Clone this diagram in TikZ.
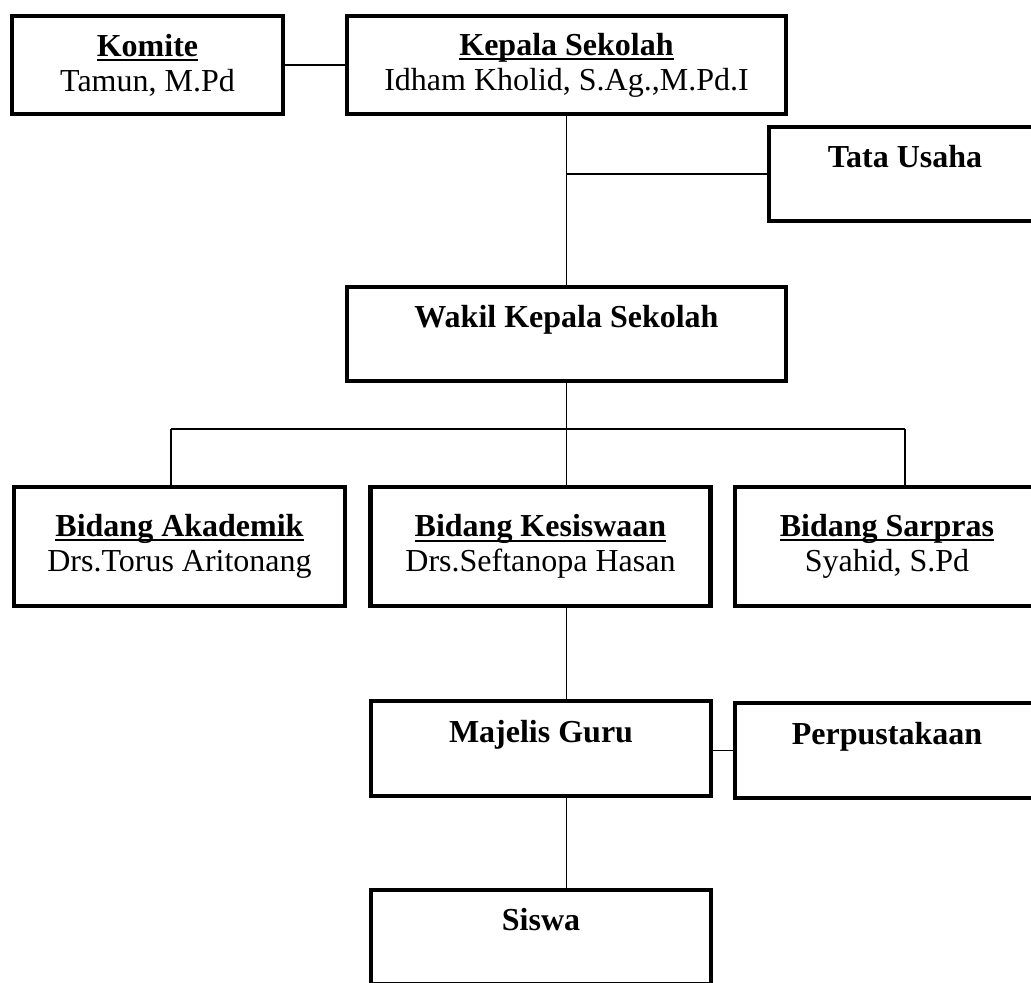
\documentclass[tikz,border=0pt]{standalone}
\usepackage{fontspec}
\setmainfont{Liberation Serif}
\newcommand\judul[1]{\setbox0\hbox{\bfseries #1}\rlap{\rule[-2.4pt]{\wd0}{1pt}}\box0}

\begin{document}
\begin{tikzpicture}[x = 0.5pt, y = -0.5pt,
    kotak/.style = {draw, line width = 2.2pt, align = center, inner sep = 0pt,
      font = \fontsize{16pt}{17.5pt}\selectfont},
    link/.style = {line width = 0.9pt}]
  \useasboundingbox (0, 0) rectangle (1031, 982);
  \clip (0, 0) rectangle (1031, 982);
  \def\lebarA{219.3pt}
  \def\lebarB{170pt}
  \def\lebarC{151.8pt}
  \node[kotak, minimum width = 135.3pt, minimum height = 48.8pt] (komite) at (147.5, 65)
    {\judul{Komite}\\Tamun, M.Pd};
  \node[kotak, minimum width = \lebarA, minimum height = 48.8pt] (kepala) at (566.5, 65)
    {\judul{Kepala Sekolah}\\Idham Kholid, S.Ag.,M.Pd.I};
  \node[kotak, minimum width = 135.8pt, minimum height = 46.8pt] (tatausaha) at (905, 174)
    {\textbf{Tata Usaha}\\\mbox{}};
  \node[kotak, minimum width = \lebarA, minimum height = 46.8pt] (wakil) at (566.5, 334)
    {\textbf{Wakil Kepala Sekolah}\\\mbox{}};
  \node[kotak, minimum width = 165.3pt, minimum height = 59.3pt] (akademik) at (179.5, 546.5)
    {\judul{Bidang Akademik}\\Drs.Torus Aritonang};
  \node[kotak, minimum width = \lebarB, minimum height = 59.3pt] (kesiswaan) at (540.5, 546.5)
    {\judul{Bidang Kesiswaan}\\Drs.Seftanopa Hasan};
  \node[kotak, minimum width = \lebarC, minimum height = 59.3pt] (sarpras) at (887, 546.5)
    {\judul{Bidang Sarpras}\\Syahid, S.Pd};
  \node[kotak, minimum width = \lebarB, minimum height = 47.3pt] (majelis) at (541, 748.5)
    {\textbf{Majelis Guru}\\\mbox{}};
  \node[kotak, minimum width = \lebarC, minimum height = 47.3pt] (perpus) at (887, 750.5)
    {\textbf{Perpustakaan}\\\mbox{}};
  \node[kotak, minimum width = \lebarB, minimum height = 46.8pt] (siswa) at (541, 937)
    {\textbf{Siswa}\\\mbox{}};
  \coordinate (cabang) at (566.5, 429);
  \coordinate (cabangkiri) at (171, 429);
  \coordinate (cabangkanan) at (905, 429);
  \draw[link] (komite.east)--(kepala.west);
  \draw[link] (kepala.south)--(wakil.north);
  \draw[link] (kepala.south |- tatausaha.west)--(tatausaha.west);
  \draw[link] (wakil.south)--(cabang);
  \draw[link] (cabangkiri)--(cabangkanan);
  \draw[link] (cabangkiri)--(cabangkiri |- akademik.north);
  \draw[link] (cabang)--(cabang |- kesiswaan.north);
  \draw[link] (cabangkanan)--(cabangkanan |- sarpras.north);
  \draw[link] (cabang |- kesiswaan.south)--(cabang |- majelis.north);
  \draw[link] (majelis.east |- perpus.west)--(perpus.west);
  \draw[link] (cabang |- majelis.south)--(cabang |- siswa.north);
\end{tikzpicture}
\end{document}
